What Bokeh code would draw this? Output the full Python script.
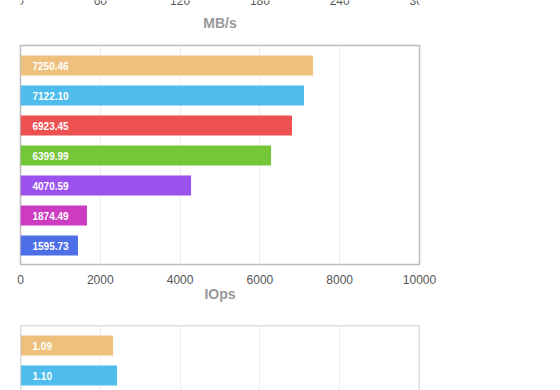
from bokeh.plotting import figure
from bokeh.layouts import column
from bokeh.models import Range1d, FixedTicker, ColumnDataSource, Label, Span
from bokeh.core.properties import value
from bokeh.embed import file_html
from bokeh.resources import INLINE

FONT = "Liberation Sans"
W = 560

# ---- data ----
bar_colors = ["#EDC17D", "#4EBCED", "#EE5151", "#75C639", "#9B51EE", "#CC3BC0", "#4C6FE8"]

mbs_ticks = [0, 60, 120, 180, 240, 300]

iops_ticks = [0, 2000, 4000, 6000, 8000, 10000]
iops_bars = [7330, 7105, 6805, 6280, 4275, 1665, 1440]
iops_labels = ["7250.46", "7122.10", "6923.45", "6399.99", "4070.59", "1874.49", "1595.73"]

lat_range = [0, 5]
lat_grid = [1, 2, 3, 4]
lat_bars = [1.16, 1.21]
lat_labels = ["1.09", "1.10"]

BAR_H = 2 / 3
TOP_PAD = 2 / 3

common = dict(width=W, output_backend="svg", toolbar_location=None,
              min_border_left=20, min_border_right=141,
              background_fill_color="white", border_fill_color="white")

# ---- top chart (only the bottom of it is visible) ----
pa = figure(height=41, x_range=Range1d(mbs_ticks[0], mbs_ticks[-1]), y_range=Range1d(0, 1),
            min_border_top=0, min_border_bottom=0, **common)
pa.axis.visible = False
pa.grid.visible = False
pa.outline_line_color = None
for t in mbs_ticks:
    pa.add_layout(Label(x=t, y=1, text=str(t), text_align="center", text_baseline="alphabetic",
                        y_offset=0, text_font=FONT, text_font_size="12px", text_color="#555555"))
pa.add_layout(Label(x=(mbs_ticks[0] + mbs_ticks[-1]) / 2, y=1, text="MB/s", text_align="center",
                    text_baseline="alphabetic", y_offset=-22, text_font=FONT, text_font_size="14px",
                    text_font_style="bold", text_color="#999999"))

# ---- IOps chart ----
n = len(iops_bars)
pb = figure(height=269, x_range=Range1d(iops_ticks[0], iops_ticks[-1]),
            y_range=Range1d(n - 1 + 0.633, -TOP_PAD),
            min_border_top=4, min_border_bottom=46, **common)
src_b = ColumnDataSource(dict(y=list(range(n)), right=iops_bars, color=bar_colors[:n], label=iops_labels))
pb.hbar(y="y", left=0, right="right", height=BAR_H, fill_color="color", line_color=None, source=src_b)
pb.text(x=0, y="y", text="label", x_offset=12, text_baseline="middle", text_align="left",
        text_font=value(FONT), text_font_style="bold", text_font_size="10px", text_color="white",
        source=src_b)
pb.yaxis.visible = False
pb.xaxis.ticker = FixedTicker(ticks=iops_ticks)
pb.xaxis.axis_label = "IOps"
pb.xaxis.axis_line_color = None
pb.xaxis.major_tick_line_color = None
pb.xaxis.minor_tick_line_color = None
pb.xaxis.major_tick_out = 0
pb.xaxis.major_tick_in = 0
pb.xaxis.major_label_standoff = 10
pb.xaxis.major_label_text_font = FONT
pb.xaxis.major_label_text_font_size = "12px"
pb.xaxis.major_label_text_color = "#555555"
pb.xaxis.axis_label_standoff = -1
pb.xaxis.axis_label_text_font = FONT
pb.xaxis.axis_label_text_font_size = "14px"
pb.xaxis.axis_label_text_font_style = "bold"
pb.xaxis.axis_label_text_color = "#999999"
pb.xgrid.ticker = FixedTicker(ticks=iops_ticks[1:-1])
pb.xgrid.grid_line_color = "#eeeeee"
pb.ygrid.visible = False
pb.outline_line_color = "#bbbbbb"
pb.outline_line_width = 1.5
pb.outline_line_alpha = 1

# ---- latency chart (only the top of it is visible) ----
m = len(lat_bars)
pc = figure(height=80, x_range=Range1d(lat_range[0], lat_range[1]),
            y_range=Range1d(1.5, -TOP_PAD),
            min_border_top=15, min_border_bottom=0, **common)
src_c = ColumnDataSource(dict(y=list(range(m)), right=lat_bars, color=bar_colors[:m], label=lat_labels))
pc.hbar(y="y", left=0, right="right", height=BAR_H, fill_color="color", line_color=None, source=src_c)
pc.text(x=0, y="y", text="label", x_offset=12, text_baseline="middle", text_align="left",
        text_font=value(FONT), text_font_style="bold", text_font_size="10px", text_color="white",
        source=src_c)
pc.axis.visible = False
pc.xgrid.ticker = FixedTicker(ticks=lat_grid)
pc.xgrid.grid_line_color = "#eeeeee"
pc.ygrid.visible = False
pc.outline_line_color = None
for xv in lat_range:
    pc.add_layout(Span(location=xv, dimension="height", line_color="#bbbbbb", line_width=1.5))
pc.add_layout(Span(location=-TOP_PAD, dimension="width", line_color="#bbbbbb", line_width=1.5))

layout = column(pa, pb, pc, spacing=0)
open("out.html", "w").write(file_html(layout, INLINE))
